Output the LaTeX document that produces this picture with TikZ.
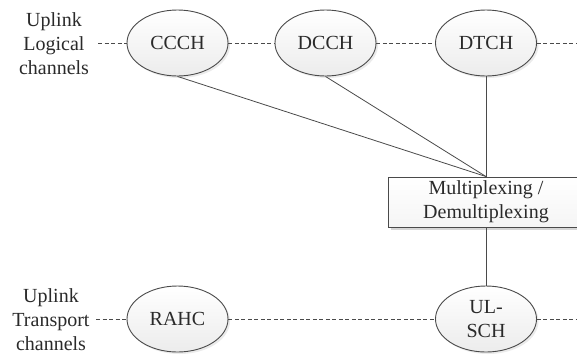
\documentclass[tikz,border=0pt]{standalone}
\usepackage{fontspec}
\setmainfont{Liberation Serif}
\usetikzlibrary{shapes.geometric,shadows}
\definecolor{ink}{HTML}{2A2A2A}
\definecolor{edge}{HTML}{4A4A4A}
\tikzset{
  chan/.style={ellipse, draw=edge, line width=0.9pt, minimum width=101pt, minimum height=66pt,
    inner sep=0pt, align=center, text=ink, top color=white, bottom color=gray!15,
    drop shadow={shadow xshift=2pt, shadow yshift=-2pt, fill=gray!30, opacity=0.5}},
  muxbox/.style={rectangle, draw=edge, line width=0.9pt, minimum width=196pt, minimum height=50pt,
    inner sep=0pt, align=center, text=ink, top color=white, bottom color=gray!8,
    drop shadow={shadow xshift=2.5pt, shadow yshift=-2.5pt, fill=gray!45, opacity=0.7}},
  lbl/.style={align=center, text=ink, inner sep=0pt},
  dashline/.style={draw=edge, line width=0.7pt, dash pattern=on 4pt off 2.5pt},
  conn/.style={draw=edge, line width=0.8pt}
}
\begin{document}
\begin{tikzpicture}[x=1pt, y=-1pt, font=\fontsize{20}{24}\selectfont]
\useasboundingbox (0,0) rectangle (577,354);
\fill[white] (0,0) rectangle (577,354);
\begin{scope}
\clip (0,0) rectangle (577,354);
% labels
\node[lbl] (ltop) at (54,44) {Uplink\\Logical\\channels};
\node[lbl] (lbot) at (51,320) {Uplink\\Transport\\channels};
% free ends of dashed lines
\coordinate (tl) at (98,43);
\coordinate (tr) at (577,43);
\coordinate (bl) at (96,319);
\coordinate (br) at (577,319);
% mux box
\node[muxbox] (mux) at (486,202) {Multiplexing /\\Demultiplexing};
% channels
\node[chan] (ccch) at (177.5,43) {CCCH};
\node[chan] (dcch) at (325.5,43) {DCCH};
\node[chan] (dtch) at (486,43) {DTCH};
\node[chan] (rahc) at (177.5,319) {RAHC};
\node[chan] (ulsch) at (486,319) {UL-\\SCH};
% dashed lines
\draw[dashline] (tl) -- (ccch.west);
\draw[dashline] (ccch.east) -- (dcch.west);
\draw[dashline] (dcch.east) -- (dtch.west);
\draw[dashline] (dtch.east) -- (tr);
\draw[dashline] (bl) -- (rahc.west);
\draw[dashline] (rahc.east) -- (ulsch.west);
\draw[dashline] (ulsch.east) -- (br);
% solid connectors
\draw[conn] (ccch.south) -- (mux.north);
\draw[conn] (dcch.south) -- (mux.north);
\draw[conn] (dtch.south) -- (mux.north);
\draw[conn] (mux.south) -- (ulsch.north);
\end{scope}
\end{tikzpicture}
\end{document}
